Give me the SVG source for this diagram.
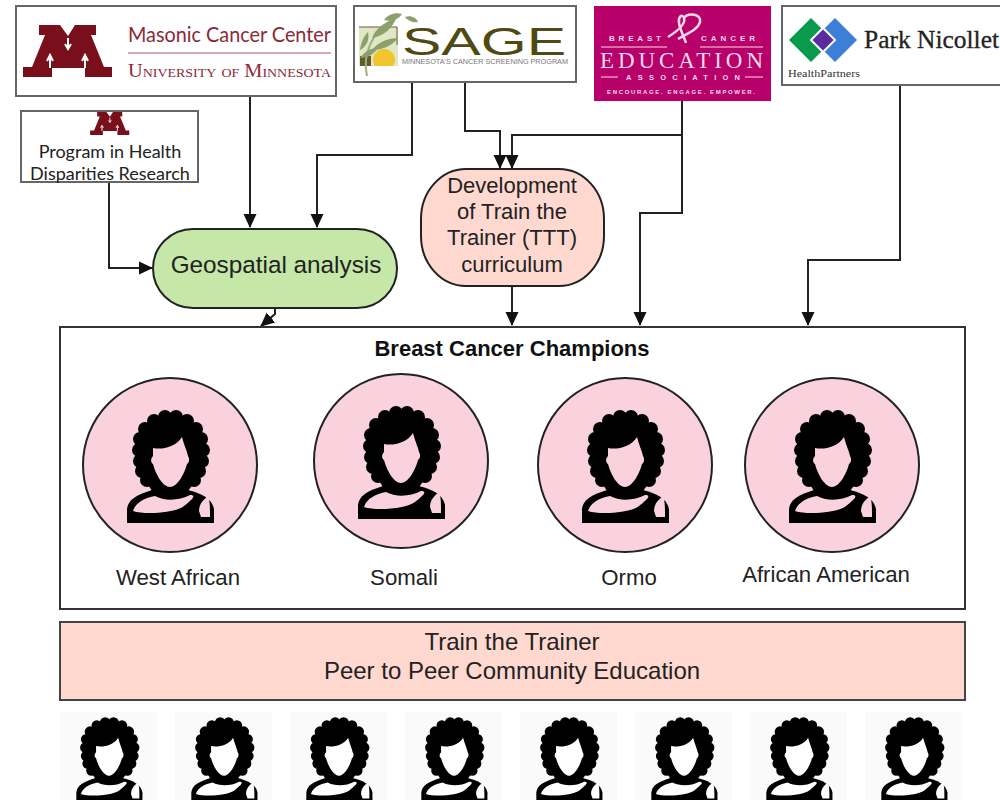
<svg xmlns="http://www.w3.org/2000/svg" xmlns:xlink="http://www.w3.org/1999/xlink" width="1000" height="800" viewBox="0 0 1000 800">
<style>
.box{fill:#fff;stroke:#666;stroke-width:2}
.t{font-family:"Liberation Sans",Arial,sans-serif;fill:#222;text-anchor:middle}
.l{font-size:22.2px}
.c{font-size:22px}
.circ{fill:#f9d2de;stroke:#222;stroke-width:2}
.lato{font-family:Lato,"Liberation Sans",sans-serif}
.serif{font-family:"Liberation Serif",serif}
.pk{fill:#f7d9e8;font-family:"Liberation Sans",sans-serif;font-weight:bold}
.edge{fill:none;stroke:#222;stroke-width:2;marker-end:url(#arrow)}
.leaf{fill:#8ba06a}
</style>
<defs>
<marker id="arrow" markerUnits="userSpaceOnUse" markerWidth="14" markerHeight="16" refX="13" refY="7" orient="auto">
<path d="M0,0.5 L14,7 L0,13.5 Z" fill="#111"/>
</marker>
<g id="woman">
<g fill="#000">
<circle cx="-31" cy="-15" r="7"/><circle cx="-30" cy="-26" r="7"/><circle cx="-25" cy="-36" r="7"/><circle cx="-16" cy="-44" r="7"/><circle cx="-5" cy="-48" r="7"/><circle cx="6" cy="-48" r="7"/><circle cx="17" cy="-44" r="7"/><circle cx="26" cy="-36" r="7"/><circle cx="31" cy="-26" r="7"/><circle cx="33" cy="-15" r="7"/><circle cx="32" cy="-4" r="7"/><circle cx="29" cy="6" r="7"/><circle cx="24" cy="15" r="7"/><circle cx="-30" cy="-4" r="7"/><circle cx="-28" cy="6" r="7"/><circle cx="-23" cy="15" r="7"/>
<ellipse cx="1" cy="-18" rx="31" ry="31"/>
<path d="M-30,-20 L31,-20 L30,10 L18,26 L-18,26 L-28,10 Z"/>
<path d="M-43,58 L-43,44 C-42,35 -34,30 -18,25 L18,25 C30,28 42,33 44,44 L44,58 Z"/>
</g>
<path d="M-17,-17 C-8,-15 6,-18 12,-28 C14,-20 17,-14 18,-9 C20,-6 19,-2 17,-1 C14,10 7,22 0,22 C-7,22 -14,10 -17,-1 C-19,-2 -20,-6 -17,-9 Z"/>
<path d="M-37,46 C-34,37 -25,33 -15,31 C-6,36 9,36 20,30 C28,30 20,36 14,41 C5,48 -25,50 -37,46 Z"/>
<path d="M29,46 C29,39 33,35 38,31 C40,36 40,42 40,52 L31,52 Z"/>
</g>
<g id="mlogo">
<polygon points="39,25 60,25 68,36 75,25 96,25 96,35 91,35 104,67 112,67 112,77 85,77 85,68 52,68 52,77 23,77 23,67 32,67 45,35 39,35"/>
<path d="M68,38 V47 M65,44 L68,49 L71,44 M50,68 V58 M47,61 L50,55 L53,61 M85,68 V58 M82,61 L85,55 L88,61" fill="none" stroke="#fff" stroke-width="2"/>
</g>
<clipPath id="iconclip"><rect x="359" y="27" width="39" height="39"/></clipPath>
</defs>

<g id="connectors">
<path class="edge" d="M250,96 V227"/>
<path class="edge" d="M412,82 V155 H317 V227"/>
<path class="edge" d="M465,82 V131 H500 V168"/>
<path class="edge" d="M682,100 V135 H512 V168"/>
<path class="edge" d="M682,135 V213 H640 V325"/>
<path class="edge" d="M900,85 V260 H808 V325"/>
<path class="edge" d="M109,182 V268 H152"/>
<path class="edge" d="M275,308 V314 L261,326"/>
<path class="edge" d="M512,286 V325"/>
</g>

<g id="masonic">
<rect class="box" x="16" y="6" width="320" height="90"/>
<use xlink:href="#mlogo" href="#mlogo" fill="#7a0f1c"/>
<text class="lato" x="128" y="42" font-size="21" fill="#8a2a38" textLength="203" lengthAdjust="spacingAndGlyphs">Masonic Cancer Center</text>
<path d="M128,53 H331" stroke="#a85a66" stroke-width="1"/>
<text class="serif" x="128" y="77" font-size="19" fill="#8a2a38" font-variant="small-caps" textLength="203" lengthAdjust="spacingAndGlyphs">University of Minnesota</text>
</g>

<g id="sage">
<rect class="box" x="354" y="6" width="222" height="76"/>
<rect x="359" y="27" width="39" height="39" fill="#dfe7c4"/>
<path d="M359,27 H397 V45" fill="none" stroke="#6e5a30" stroke-width="1"/>
<circle cx="384" cy="60" r="11" fill="#f2c52e" clip-path="url(#iconclip)"/>
<rect x="360" y="56" width="11" height="10" fill="#5e5a2a"/>
<path d="M367,76 C362,55 372,32 392,20" fill="none" stroke="#9fb080" stroke-width="2"/>
<path class="leaf" d="M372,38 C376,28 384,22 396,19 C392,28 384,36 372,38 Z"/>
<path class="leaf" d="M384,20 C388,14 396,12 402,14 C398,20 391,22 384,20 Z"/>
<path class="leaf" d="M405,17 C410,15 416,17 418,22 C413,23 408,21 405,17 Z"/>
<path class="leaf" d="M360,50 C361,42 364,36 368,32 C370,40 366,47 360,50 Z"/>
<path class="leaf" d="M372,50 C378,42 388,38 398,38 C392,46 382,50 372,50 Z"/>
<path class="leaf" d="M360,58 C364,52 370,48 378,48 C374,54 368,58 360,58 Z"/>
<text x="402" y="55" font-family="Liberation Sans,sans-serif" font-size="39" fill="#4f4a12" textLength="164" lengthAdjust="spacingAndGlyphs">SAGE</text>
<text x="402" y="64" font-family="Liberation Sans,sans-serif" font-size="6.5" fill="#777" textLength="166" lengthAdjust="spacingAndGlyphs">MINNESOTA'S CANCER SCREENING PROGRAM</text>
</g>

<g id="bcea">
<rect x="594" y="6" width="177" height="95" fill="#b8006b"/>
<path d="M668,37 C676,32 686,24 684,18 C682,13 678,17 679,23 C680,30 684,36 686,43 M684,18 C688,12 702,14 700,22 C698,30 686,34 678,39" fill="none" stroke="#f7d9e8" stroke-width="2.5"/>
<text class="pk" x="609" y="41" font-size="8" textLength="52">BREAST</text>
<text class="pk" x="701" y="41" font-size="8" textLength="54">CANCER</text>
<path d="M601,47 H667 M700,47 H763 M601,77 H618 M745,77 H763" stroke="#f7d9e8" stroke-width="1"/>
<text x="600" y="68" font-family="Liberation Serif,serif" font-size="23" fill="#f7d9e8" textLength="163">EDUCATION</text>
<text class="pk" x="626" y="80" font-size="7.5" font-weight="normal" textLength="114">ASSOCIATION</text>
<text class="pk" x="607" y="94" font-size="6" textLength="148">ENCOURAGE. ENGAGE. EMPOWER.</text>
</g>

<g id="parknicollet">
<rect class="box" x="782" y="6" width="230" height="79"/>
<polygon points="811,18 833,40 811,62 789,40" fill="#0b9a4c"/>
<polygon points="835,18 857,40 835,62 813,40" fill="#3b7fd8"/>
<polygon points="823,28 835,40 823,52 811,40" fill="#5b2aa0" stroke="#fff" stroke-width="2"/>
<text x="864" y="48" font-family="Liberation Serif,serif" font-size="25" fill="#222" stroke="#222" stroke-width=".3" textLength="135" lengthAdjust="spacingAndGlyphs">Park Nicollet</text>
<text x="788" y="77" font-family="Liberation Serif,serif" font-size="10" fill="#333" textLength="72" lengthAdjust="spacingAndGlyphs">HealthPartners</text>
</g>

<g id="program">
<rect class="box" x="21" y="111" width="177" height="71"/>
<use xlink:href="#mlogo" href="#mlogo" fill="#7a0f1c" transform="translate(80,101) scale(.44)"/>
<text class="t" x="110" y="158" font-size="18" style="font-family:Lato,'Liberation Sans',sans-serif">Program in Health</text>
<text class="t" x="110" y="180" font-size="18" style="font-family:Lato,'Liberation Sans',sans-serif">Disparities Research</text>
</g>

<g id="geospatial">
<rect x="153" y="229" width="244" height="79" rx="40" fill="#c5e8a8" stroke="#222" stroke-width="2"/>
<text class="t" x="276" y="273" font-size="24.3">Geospatial analysis</text>
</g>

<g id="curriculum">
<rect x="421" y="169" width="183" height="117" rx="45" ry="50" fill="#ffd9d0" stroke="#222" stroke-width="2"/>
<text class="t c" x="512" y="193">Development</text>
<text class="t c" x="512" y="219">of Train the</text>
<text class="t c" x="512" y="245">Trainer (TTT)</text>
<text class="t c" x="512" y="272">curriculum</text>
</g>

<g id="champions">
<rect x="60" y="327" width="905" height="282" fill="#fff" stroke="#333" stroke-width="2"/>
<text class="t" x="512" y="356" font-size="22" font-weight="bold" style="fill:#111">Breast Cancer Champions</text>
</g>

<g id="west-african">
<circle class="circ" cx="170" cy="465" r="87"/>
<use xlink:href="#woman" href="#woman" fill="#f9d2de" x="170" y="465"/>
<text class="t l" x="178" y="585">West African</text>
</g>
<g id="somali">
<circle class="circ" cx="401" cy="461" r="87"/>
<use xlink:href="#woman" href="#woman" fill="#f9d2de" x="401" y="461"/>
<text class="t l" x="404" y="585">Somali</text>
</g>
<g id="ormo">
<circle class="circ" cx="625" cy="465" r="87"/>
<use xlink:href="#woman" href="#woman" fill="#f9d2de" x="625" y="465"/>
<text class="t l" x="629" y="585">Ormo</text>
</g>
<g id="african-american">
<circle class="circ" cx="832" cy="465" r="87"/>
<use xlink:href="#woman" href="#woman" fill="#f9d2de" x="832" y="465"/>
<text class="t l" x="826" y="582">African American</text>
</g>

<g id="train">
<rect x="60" y="622" width="905" height="78" fill="#ffd9d0" stroke="#444" stroke-width="2"/>
<text class="t" x="512" y="650" font-size="24">Train the Trainer</text>
<text class="t" x="512" y="679" font-size="24">Peer to Peer Community Education</text>
</g>

<g id="peers" fill="#fff">
<rect x="60" y="712" width="97" height="88" fill="#fafafa"/><rect x="175" y="712" width="97" height="88" fill="#fafafa"/><rect x="290" y="712" width="97" height="88" fill="#fafafa"/><rect x="405" y="712" width="97" height="88" fill="#fafafa"/><rect x="520" y="712" width="97" height="88" fill="#fafafa"/><rect x="635" y="712" width="97" height="88" fill="#fafafa"/><rect x="750" y="712" width="97" height="88" fill="#fafafa"/><rect x="865" y="712" width="97" height="88" fill="#fafafa"/>
<use xlink:href="#woman" href="#woman" transform="translate(109,759) scale(.76)"/>
<use xlink:href="#woman" href="#woman" transform="translate(224,759) scale(.76)"/>
<use xlink:href="#woman" href="#woman" transform="translate(339,759) scale(.76)"/>
<use xlink:href="#woman" href="#woman" transform="translate(454,759) scale(.76)"/>
<use xlink:href="#woman" href="#woman" transform="translate(569,759) scale(.76)"/>
<use xlink:href="#woman" href="#woman" transform="translate(684,759) scale(.76)"/>
<use xlink:href="#woman" href="#woman" transform="translate(799,759) scale(.76)"/>
<use xlink:href="#woman" href="#woman" transform="translate(914,759) scale(.76)"/>
</g>
</svg>
